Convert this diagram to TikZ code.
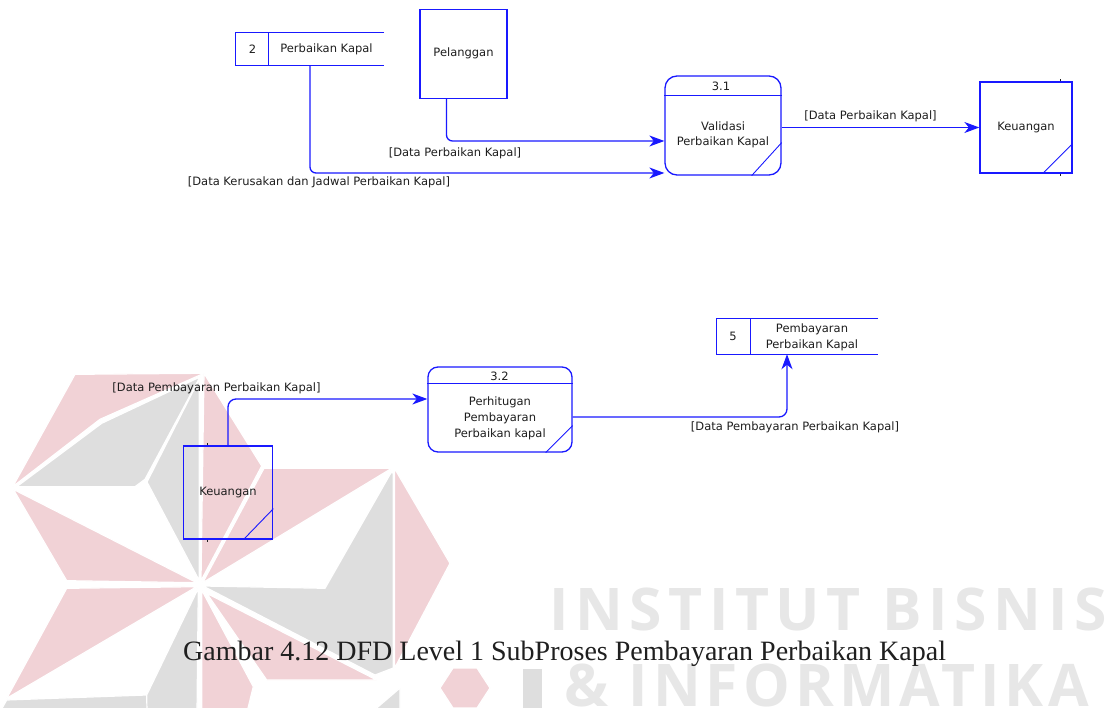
\documentclass[tikz,border=0pt]{standalone}
\usepackage{fontspec}
\setmainfont{DejaVu Sans}
\newfontfamily\captionfont{Liberation Serif}
\newfontfamily\markfont{Open Sans}
\usetikzlibrary{arrows.meta}

\definecolor{flowblue}{RGB}{25,25,255}
\definecolor{inkgray}{RGB}{30,30,30}
\definecolor{logopink}{RGB}{241,210,214}
\definecolor{logogray}{RGB}{222,222,222}
\definecolor{markgray}{RGB}{231,231,231}

\tikzset{
  shape edge/.style={draw=flowblue, line width=1.3pt},
  thin edge/.style={draw=flowblue, line width=0.9pt},
  dfdtext/.style={text=inkgray, font=\fontsize{11.5}{16}\selectfont, inner sep=0pt, align=center},
  entity/.style={shape edge, dfdtext, rectangle},
  procbox/.style={shape edge, rectangle, inner sep=0pt},
  storebody/.style={rectangle, inner sep=0pt},
  flow/.style={draw=flowblue, line width=1.3pt, -{Stealth[length=15pt,width=11pt,inset=4.5pt]}},
  tickmark/.style={draw=inkgray, line width=0.8pt},
  pinkpiece/.style={fill=logopink, draw=white, line width=1.2pt},
  graypiece/.style={fill=logogray, draw=white, line width=1.2pt},
  markstyle/.style={text=markgray, inner sep=0pt, anchor=base west, text depth=0pt, text height=41pt},
}

\begin{document}
\begin{tikzpicture}[x=1pt, y=-1pt]
  \useasboundingbox (0,0) rectangle (1107,708);
  \fill[white] (0,0) rectangle (1107,708);

  % ---------- background emblem and lettering ----------
  \begin{scope}
    \clip (0,0) rectangle (1107,708);
    \path[pinkpiece] (75,374.3) -- (204,373.3) -- (100,419.3) -- (12.7,486.7) -- cycle;
    \path[graypiece] (200,377) -- (101.7,423.3) -- (16.7,486.7) -- (135,486.7) -- (145,479.3) -- cycle;
    \path[graypiece] (147,482) -- (199.3,379) -- (199.3,580.7) -- cycle;
    \path[pinkpiece] (204,373.3) -- (261.7,466) -- (201,580.7) -- cycle;
    \path[pinkpiece] (13.3,489.3) -- (66.7,580.7) -- (196.7,582.7) -- cycle;
    \path[pinkpiece] (264,468.3) -- (391.7,468.3) -- (202.7,582.7) -- cycle;
    \path[graypiece] (391,472.7) -- (393.3,472.7) -- (393.3,668) -- (375,675) -- (203,586) -- (325,588.3) -- cycle;
    \path[pinkpiece] (394.5,468.3) -- (450,563.3) -- (394.5,668.3) -- cycle;
    \path[pinkpiece] (206.7,593.3) -- (376.7,680) -- (266.7,680) -- cycle;
    \path[pinkpiece] (66.7,588.3) -- (196.7,586.7) -- (6.7,698.3) -- cycle;
    \path[graypiece] (6.7,700) -- (146.7,695) -- (150,712) -- (0,712) -- cycle;
    \path[graypiece] (198.3,588.3) -- (146.7,695) -- (147,712) -- (197,712) -- cycle;
    \path[pinkpiece] (201.7,590) -- (253.3,686.7) -- (247,712) -- (201.7,712) -- cycle;
    \path[graypiece] (400,688) -- (372,712) -- (400,712) -- cycle;
    \path[pinkpiece] (440,688) -- (453,668) -- (477,668) -- (490,688) -- (477,708) -- (453,708) -- cycle;
    \path[graypiece] (522,668) -- (543,668) -- (543,712) -- (522,712) -- cycle;
    \node[markstyle, font=\markfont\bfseries\addfontfeature{LetterSpace=11.2}\fontsize{58.8}{60}\selectfont] (markA) at (549,630) {INSTITUT BISNIS};
    \node[markstyle, font=\markfont\bfseries\addfontfeature{LetterSpace=8.6}\fontsize{58.8}{60}\selectfont] (markB) at (564,706) {\& INFORMATIKA};
  \end{scope}

  % ---------- upper part: process 3.1 ----------
  % data store 2
  \node[storebody, minimum width=148pt, minimum height=32pt] (st2) at (310,49) {};
  \draw[shape edge] (st2.north east) -- (st2.north west) -- (st2.south west) -- (st2.south east);
  \draw[shape edge] ([xshift=33pt]st2.north west) -- ([xshift=33pt]st2.south west);
  \node[dfdtext] (st2id) at (252.5,49) {2};
  \node[dfdtext] (st2name) at (326.5,49) {Perbaikan Kapal};

  % external entity Pelanggan
  \node[entity, minimum width=87pt, minimum height=89pt] (pel) at (463.5,53.7) {Pelanggan};

  % process 3.1
  \node[procbox, rounded corners=12pt, minimum width=116pt, minimum height=99pt] (p31) at (723,125.5) {};
  \draw[shape edge] ([yshift=-20pt]p31.north west) -- ([yshift=-20pt]p31.north east);
  \draw[thin edge] ([xshift=-30pt]p31.south east) -- ([yshift=33pt]p31.south east);
  \node[dfdtext] (p31id) at (721,86) {3.1};
  \node[dfdtext, font=\fontsize{11.5}{15}\selectfont] (p31name) at (723,134.5) {Validasi\\Perbaikan Kapal};

  % external entity Keuangan
  \node[entity, minimum width=92pt, minimum height=91pt] (keu1) at (1026,127.5) {Keuangan};
  \draw[thin edge] ([xshift=-30pt]keu1.south east) -- ([yshift=30pt]keu1.south east);
  \draw[tickmark] ([xshift=34.7pt]keu1.north) -- ++(0pt,2.5pt);
  \draw[tickmark] ([xshift=34.7pt]keu1.south) -- ++(0pt,-2.5pt);

  % flows
  \draw[flow, rounded corners=6pt] ([xshift=-17pt]pel.south) |- ([yshift=-15.5pt]p31.west);
  \draw[flow, rounded corners=6pt] (st2.south) |- ([yshift=-47.5pt]p31.west);
  \draw[flow] (p31.east |- keu1.west) -- (keu1.west);

  \node[dfdtext] (lab1) at (455,153) {[Data Perbaikan Kapal]};
  \node[dfdtext] (lab2) at (319,182) {[Data Kerusakan dan Jadwal Perbaikan Kapal]};
  \node[dfdtext] (lab3) at (870.5,116.5) {[Data Perbaikan Kapal]};

  % ---------- lower part: process 3.2 ----------
  % data store 5
  \node[storebody, minimum width=161pt, minimum height=35pt] (st5) at (797.5,336.5) {};
  \draw[shape edge] (st5.north east) -- (st5.north west) -- (st5.south west) -- (st5.south east);
  \draw[shape edge] ([xshift=34pt]st5.north west) -- ([xshift=34pt]st5.south west);
  \node[dfdtext] (st5id) at (733,336) {5};
  \node[dfdtext] (st5name) at (812,337) {Pembayaran\\Perbaikan Kapal};

  % process 3.2
  \node[procbox, rounded corners=10pt, minimum width=144pt, minimum height=85pt] (p32) at (500,409.5) {};
  \draw[shape edge] ([yshift=-17pt]p32.north west) -- ([yshift=-17pt]p32.north east);
  \draw[thin edge] ([xshift=-27pt]p32.south east) -- ([yshift=27pt]p32.south east);
  \node[dfdtext] (p32id) at (499.5,376) {3.2};
  \node[dfdtext] (p32name) at (500,418) {Perhitugan\\Pembayaran\\Perbaikan kapal};

  % external entity Keuangan
  \node[entity, minimum width=89.5pt, minimum height=93pt] (keu2) at (228,492.5) {Keuangan};
  \draw[thin edge] ([xshift=-30pt]keu2.south east) -- ([yshift=31pt]keu2.south east);
  \draw[tickmark] ([xshift=-21pt]keu2.north) -- ++(0pt,2.5pt);
  \draw[tickmark] ([xshift=-21pt]keu2.south) -- ++(0pt,-2.5pt);

  % flows
  \draw[flow, rounded corners=8pt] (keu2.north) |- ([yshift=10.5pt]p32.west);
  \draw[flow, rounded corners=8pt] ([yshift=-7.5pt]p32.east) -| ([xshift=-10.5pt]st5.south);

  \node[dfdtext] (lab4) at (216.5,388.5) {[Data Pembayaran Perbaikan Kapal]};
  \node[dfdtext] (lab5) at (795,427.7) {[Data Pembayaran Perbaikan Kapal]};

  % ---------- caption ----------
  \node[font=\captionfont\fontsize{28}{32}\selectfont, text=black!88, anchor=base west, inner sep=0pt] (caption) at (183,660) {Gambar 4.12 DFD Level 1 SubProses Pembayaran Perbaikan Kapal};
\end{tikzpicture}
\end{document}
